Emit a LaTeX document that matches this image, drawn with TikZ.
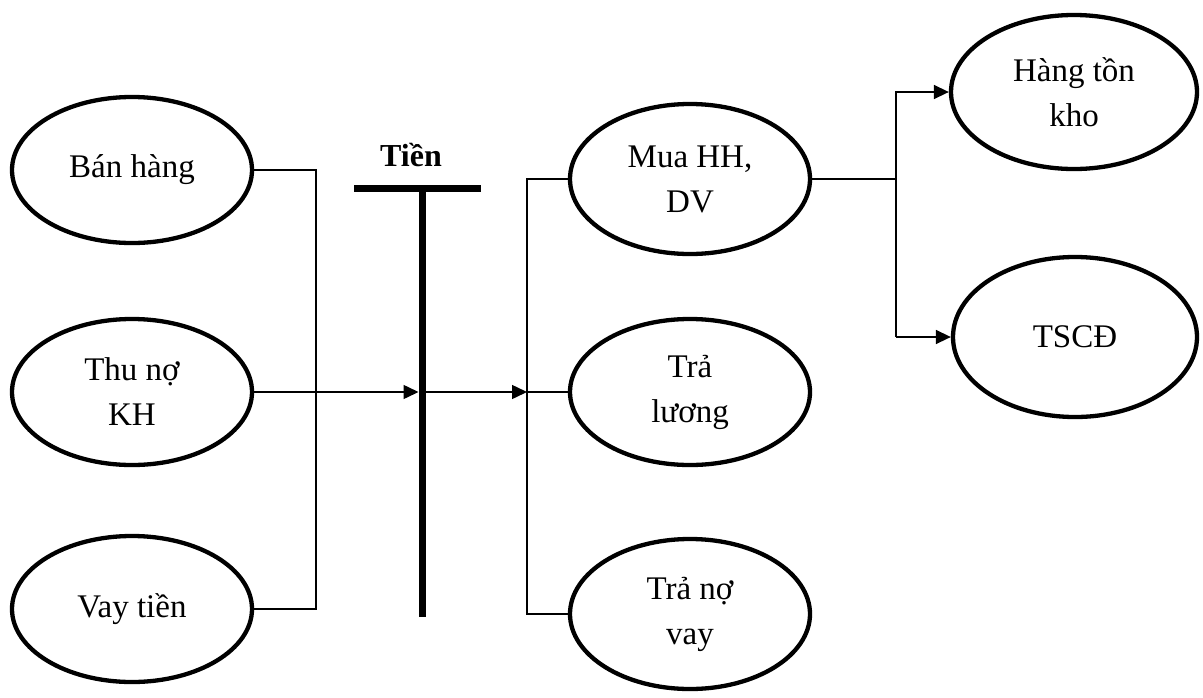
\documentclass[tikz,border=0pt]{standalone}
\usepackage{fontspec}
\setmainfont{Liberation Serif}
\usetikzlibrary{shapes.geometric,arrows.meta}
\begin{document}
\begin{tikzpicture}[x=1pt,y=-1pt,
  blob/.style={ellipse,draw,line width=4.3pt,minimum width=240pt,minimum height=146pt,
    align=center,font=\fontsize{33}{45}\selectfont,inner sep=0pt},
  conn/.style={line width=1.5pt},
  arr/.style={conn,-{Triangle[length=15pt,width=14pt]}},
  tbar/.style={line width=7pt}]
\useasboundingbox (0,0) rectangle (1203,697);
% sources of cash
\node[blob] (ban) at (132,170) {Bán hàng};
\node[blob] (thuno) at (132,392) {Thu nợ\\KH};
\node[blob] (vay) at (132,609) {Vay tiền};
% uses of cash
\node[blob,minimum height=150pt] (mua) at (690,179) {Mua HH,\\DV};
\node[blob] (luong) at (690,392) {Trả\\lương};
\node[blob,minimum height=150pt] (trano) at (690,614) {Trả nợ\\vay};
\node[blob,minimum width=246pt,minimum height=154pt] (hang) at (1074,92) {Hàng tồn\\kho};
\node[blob,minimum width=244pt,minimum height=160pt] (tscd) at (1075,337) {TSCĐ};
% the cash account drawn as a T
\node[font=\fontsize{32}{38}\selectfont\bfseries] (tien) at (411,155) {Tiền};
\coordinate (barL) at (354,188);
\coordinate (barR) at (481,188);
\coordinate (stemT) at (422,188);
\coordinate (stemB) at (422,617);
\draw[tbar] (barL) -- (barR);
\draw[tbar] (stemT) -- (stemB);
% junctions
\coordinate (jl) at (316,392);
\coordinate (tin) at (418.5,392);
\coordinate (tout) at (425.5,392);
\coordinate (jr) at (527,392);
\coordinate (jm) at (896,337);
% connectors
\draw[conn] (ban.east) -| (jl) |- (vay.east);
\draw[arr] (thuno.east) -- (tin);
\draw[arr] (tout) -- (jr);
\draw[conn] (mua.west) -| (jr) |- (trano.west);
\draw[conn] (jr) -- (luong.west);
\draw[conn] (mua.east) -| (jm);
\draw[arr] (jm) |- (hang.west);
\draw[arr] (jm) -- (tscd.west);
\end{tikzpicture}
\end{document}
